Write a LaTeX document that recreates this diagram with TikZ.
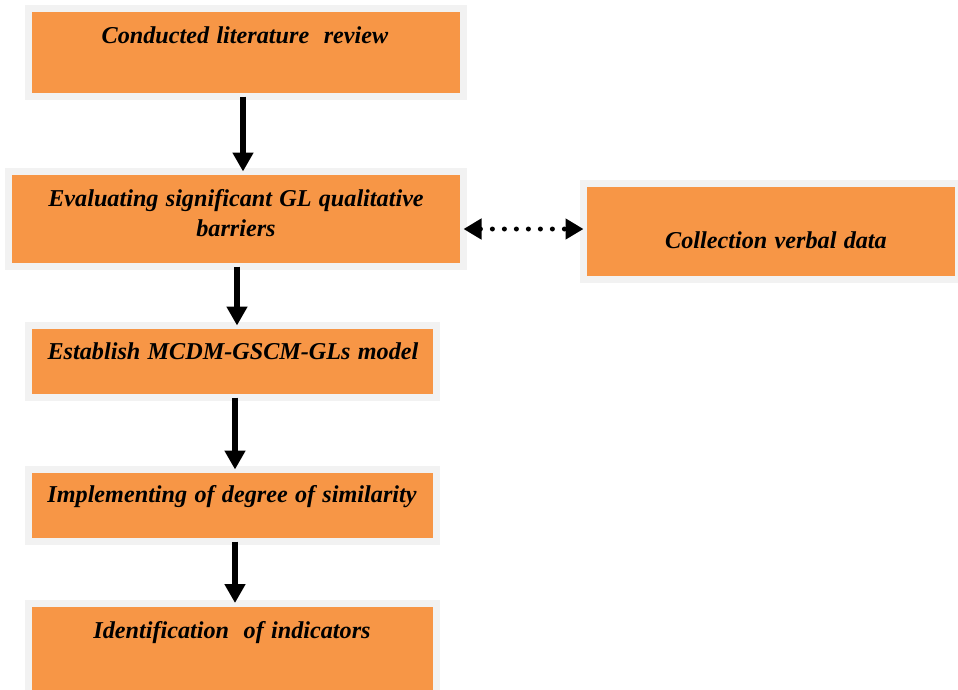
\documentclass[tikz,border=0pt]{standalone}
\usepackage{fontspec}
\setmainfont[WordSpace=1.2]{Liberation Serif}
\usetikzlibrary{arrows.meta}
\definecolor{boxorange}{HTML}{F79646}
\definecolor{framegray}{HTML}{F2F2F2}
\tikzset{
  box/.style={rectangle, fill=boxorange, draw=framegray, line width=7pt, inner sep=0pt, outer sep=0pt},
  txt/.style={font=\fontsize{24.2}{30}\selectfont\bfseries\itshape, inner sep=0pt, text=black},
  arr/.style={line width=5.5pt, -{Triangle[width=20pt,length=19pt]}},
  dotarr/.style={line width=5pt, line cap=round, dash pattern=on 0pt off 12pt,
     {Triangle[width=20pt,length=18pt]}-{Triangle[width=20pt,length=18pt]}}
}
\begin{document}
\begin{tikzpicture}[x=1pt,y=-1pt]
\useasboundingbox (0,0) rectangle (958,689);
\fill[white] (0,0) rectangle (958,689);
% boxes
\node[box, minimum width=435pt, minimum height=88pt] (b1) at (246,52.5) {};
\node[box, minimum width=455pt, minimum height=95pt] (b2) at (236,219) {};
\node[box, minimum width=375pt, minimum height=96pt] (b3) at (771,231.5) {};
\node[box, minimum width=408pt, minimum height=72pt] (b4) at (232.5,361.5) {};
\node[box, minimum width=408pt, minimum height=72pt] (b5) at (232.5,505.5) {};
\node[box, minimum width=408pt, minimum height=90pt] (b6) at (232.5,648) {};
% texts
\node[txt, anchor=base] (t1) at (245,43) {Conducted literature\ \ review};
\node[txt, align=center, anchor=center] (t2) at (236,213) {Evaluating significant GL qualitative\\barriers};
\node[txt, anchor=base] (t3) at (776,248) {Collection verbal data};
\node[txt, anchor=base] (t4) at (233,359) {Establish MCDM-GSCM-GLs model};
\node[txt, anchor=base] (t5) at (232,502) {Implementing of degree of similarity};
\node[txt, anchor=base] (t6) at (232,638) {Identification\ \ of indicators};
% connectors
\draw[arr] ([xshift=-3pt]b1.south) -- ([xshift=7pt]b2.north);
\draw[arr] ([xshift=1pt]b2.south) -- ([xshift=4.5pt]b4.north);
\draw[arr] ([xshift=2.5pt]b4.south) -- ([xshift=2.5pt]b5.north);
\draw[arr] ([xshift=2.5pt]b5.south) -- ([xshift=2.5pt]b6.north);
\coordinate (d1) at ([yshift=-10pt]b2.east);
\draw[dotarr] (d1) -- (d1 -| b3.west);
\end{tikzpicture}
\end{document}
